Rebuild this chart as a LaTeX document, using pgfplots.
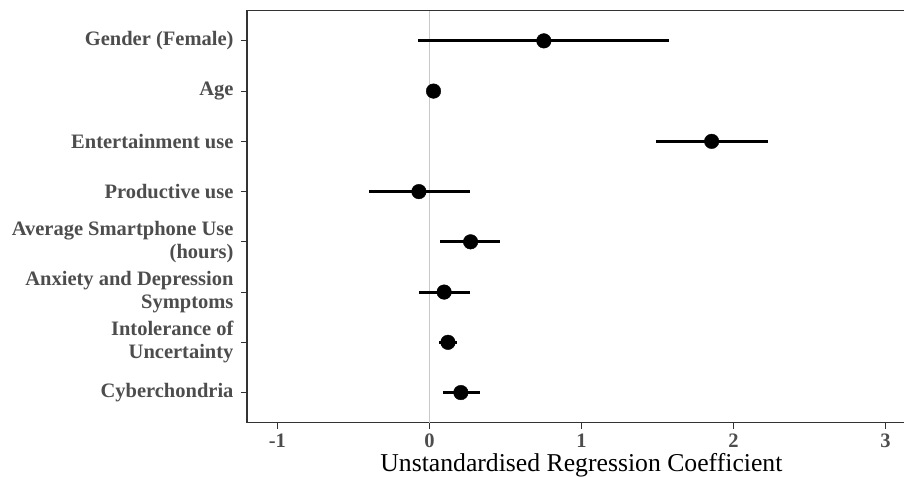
\documentclass[border=0pt]{standalone}
\usepackage{fontspec}
\setmainfont{Liberation Serif}
\usepackage{pgfplots}
\usepackage{pgfplotstable}
\pgfplotsset{compat=1.18}

\definecolor{labgray}{HTML}{4D4D4D}
\definecolor{axgray}{HTML}{333333}
\definecolor{zerogray}{HTML}{C8C8C8}

% position (8 = top row), estimate, lower and upper bound
\pgfplotstableread{
y est lo hi
8 0.753 -0.074 1.578
7 0.027 0.010 0.045
6 1.857 1.490 2.227
5 -0.069 -0.400 0.264
4 0.271 0.071 0.464
3 0.097 -0.069 0.264
2 0.122 0.062 0.180
1 0.207 0.091 0.330
}\coef

\begin{document}
\begin{tikzpicture}
  \begin{axis}[
      name=ax,
      scale only axis,
      width=668.8pt, height=412pt,
      xmin=-1.2, xmax=3.2, ymin=0.4, ymax=8.6,
      xtick={-1,0,1,2,3},
      xticklabels={-1,0,1,2,3},
      ytick={1,2,3,4,5,6,7,8},
      yticklabels={Cyberchondria,
        {Intolerance of\\Uncertainty},
        {Anxiety and Depression\\Symptoms},
        {Average Smartphone Use\\(hours)},
        Productive use, Entertainment use, Age, Gender (Female)},
      tick align=outside,
      major tick length=6pt,
      tick style={axgray, line width=1.1pt},
      xtick pos=bottom, ytick pos=left,
      axis line style={axgray, line width=1.1pt},
      ticklabel style={font=\fontsize{20.5}{23}\selectfont\bfseries, text=labgray},
      yticklabel style={align=right, xshift=-4pt},
      xticklabel style={yshift=-2pt},
      xlabel={Unstandardised Regression Coefficient},
      xlabel style={font=\fontsize{25.7}{28}\selectfont, at={(axis description cs:0.5,0)}, anchor=base, yshift=-48.3pt},
      clip=false,
    ]
    \addplot[zerogray, line width=1.3pt] coordinates {(0,0.4) (0,8.6)};
    \addplot[black, only marks, mark=*, mark size=7.3pt,
      error bars/.cd, x dir=both, x explicit, error mark=none,
      error bar style={line width=3pt, black}]
      table[x=est, y=y,
        x error plus expr=\thisrow{hi}-\thisrow{est},
        x error minus expr=\thisrow{est}-\thisrow{lo}] {\coef};
  \end{axis}
  \pgfresetboundingbox
  \path ([shift={(-247pt,-54.3pt)}]ax.south west) rectangle ([shift={(657pt,422.7pt)}]ax.south west);
\end{tikzpicture}
\end{document}
